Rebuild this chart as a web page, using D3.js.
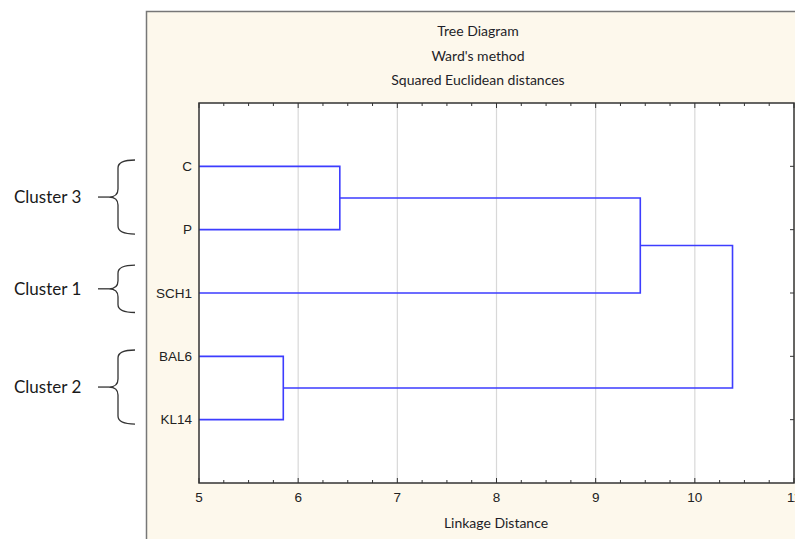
<!DOCTYPE html>
<html>
<head>
<meta charset="utf-8">
<script src="https://cdn.jsdelivr.net/npm/d3@7"></script>
<style>
  body { margin: 0; background: #fff; }
  svg { display: block; }
  .title { font-family: Lato, "Open Sans", sans-serif; font-size: 14px; fill: #1e1e28; }
  .tick-label { font-family: "Liberation Sans", Arial, sans-serif; font-size: 13.5px; fill: #222; }
  .cluster-label { font-family: Lato, "Open Sans", sans-serif; font-size: 17px; fill: #1a1a1a; }
</style>
</head>
<body>
<svg id="chart" width="795" height="539"></svg>
<script>
'use strict';

// leaves, top to bottom
var leaves = ['C', 'P', 'SCH1', 'BAL6', 'KL14'];

// merges, in order of construction
var linkLeft = ['C', 'BAL6', 'C+P', 'C+P+SCH1'];
var linkRight = ['P', 'KL14', 'SCH1', 'BAL6+KL14'];
var linkHeight = [6.42, 5.85, 9.45, 10.38];

// axis
var xTicks = [5, 6, 7, 8, 9, 10, 11];
var titleLines = ['Tree Diagram', "Ward's method", 'Squared Euclidean distances'];
var xTitle = 'Linkage Distance';

// cluster annotations on the left
var clusterNames = ['Cluster 3', 'Cluster 1', 'Cluster 2'];
var clusterMembers = [['C', 'P'], ['SCH1'], ['BAL6', 'KL14']];

var svg = d3.select('#chart');
var plot = { left: 199, right: 794, top: 103, bottom: 483 };

var x = d3.scaleLinear().domain([5, 11]).range([plot.left, plot.right]);
var y = d3.scaleLinear().domain([0, leaves.length + 1]).range([plot.top, plot.bottom]);
var step = y(1) - y(0);

// outer panel
svg.append('rect')
  .attr('x', 146.5).attr('y', 11.5)
  .attr('width', 700).attr('height', 600)
  .attr('fill', '#fdf8ec')
  .attr('stroke', '#777')
  .attr('stroke-width', 1.5);

// titles
svg.selectAll('text.title')
  .data(titleLines)
  .enter().append('text')
    .attr('class', 'title')
    .attr('x', 478)
    .attr('y', function(d, i){ return 36 + i * 24.5; })
    .attr('text-anchor', 'middle')
    .text(function(d){ return d; });

// plot area
svg.append('rect')
  .attr('x', plot.left).attr('y', plot.top)
  .attr('width', plot.right - plot.left).attr('height', plot.bottom - plot.top)
  .attr('fill', '#fff');

// grid lines at integer values
svg.append('g')
  .selectAll('line')
  .data(xTicks.filter(function(d){ return d > 5 && d < 11; }))
  .enter().append('line')
    .attr('x1', function(d){ return x(d); })
    .attr('x2', function(d){ return x(d); })
    .attr('y1', plot.top).attr('y2', plot.bottom)
    .attr('stroke', '#d8d8d8')
    .attr('stroke-width', 1.2);

// inward ticks on top and bottom
var minor = d3.range(5, 11.001, 0.25);
var tickG = svg.append('g').attr('stroke', '#333').attr('stroke-width', 1);
minor.forEach(function(v){
  var len = Number.isInteger(v) ? 5 : 3;
  tickG.append('line')
    .attr('x1', x(v)).attr('x2', x(v))
    .attr('y1', plot.bottom).attr('y2', plot.bottom - len);
  tickG.append('line')
    .attr('x1', x(v)).attr('x2', x(v))
    .attr('y1', plot.top).attr('y2', plot.top + len);
});
// ticks on the right at leaf positions
leaves.forEach(function(l, i){
  tickG.append('line')
    .attr('x1', plot.right).attr('x2', plot.right - 4)
    .attr('y1', y(i + 1)).attr('y2', y(i + 1));
});

// dendrogram
var nodes = {};
leaves.forEach(function(l, i){
  nodes[l] = { x: x(5), y: y(i + 1) };
});
var linkG = svg.append('g')
  .attr('fill', 'none')
  .attr('stroke', '#3d3dff')
  .attr('stroke-width', 1.6);
linkLeft.forEach(function(a, i){
  var b = linkRight[i];
  var px = x(linkHeight[i]);
  var na = nodes[a], nb = nodes[b];
  linkG.append('path')
    .attr('d', 'M' + na.x + ',' + na.y + 'H' + px + 'V' + nb.y + 'H' + nb.x);
  nodes[a + '+' + b] = { x: px, y: (na.y + nb.y) / 2 };
});

// plot border
svg.append('rect')
  .attr('x', plot.left).attr('y', plot.top)
  .attr('width', plot.right - plot.left).attr('height', plot.bottom - plot.top)
  .attr('fill', 'none')
  .attr('stroke', '#333')
  .attr('stroke-width', 1.5);

// leaf labels
svg.selectAll('text.leaf')
  .data(leaves)
  .enter().append('text')
    .attr('class', 'tick-label leaf')
    .attr('x', plot.left - 7)
    .attr('y', function(d, i){ return y(i + 1); })
    .attr('dy', '0.35em')
    .attr('text-anchor', 'end')
    .text(function(d){ return d; });

// x tick labels (the last one runs off the right edge, as in the original)
svg.selectAll('text.xtick')
  .data(xTicks)
  .enter().append('text')
    .attr('class', 'tick-label xtick')
    .attr('x', function(d){ return x(d); })
    .attr('y', plot.bottom + 19)
    .attr('text-anchor', 'middle')
    .text(function(d){ return d; });

svg.append('text')
  .attr('class', 'title')
  .attr('x', 496)
  .attr('y', 528)
  .attr('text-anchor', 'middle')
  .text(xTitle);

// curly braces with cluster names
var braceG = svg.append('g')
  .attr('fill', 'none')
  .attr('stroke', '#333')
  .attr('stroke-width', 1.3);
clusterNames.forEach(function(name, i){
  var m = clusterMembers[i];
  var pad = m.length > 1 ? 0.1 : 0.44;
  var y1 = y(leaves.indexOf(m[0]) + 1) - pad * step;
  var y2 = y(leaves.indexOf(m[m.length - 1]) + 1) + pad * step * 0.7;
  var ym = (y1 + y2) / 2;
  var xe = 135, xv = 118, xt = 109, r = 8;
  braceG.append('path')
    .attr('d', 'M' + xe + ',' + y1 +
      'Q' + xv + ',' + y1 + ' ' + xv + ',' + (y1 + r) +
      'L' + xv + ',' + (ym - r) +
      'Q' + xv + ',' + ym + ' ' + xt + ',' + ym +
      'Q' + xv + ',' + ym + ' ' + xv + ',' + (ym + r) +
      'L' + xv + ',' + (y2 - r) +
      'Q' + xv + ',' + y2 + ' ' + xe + ',' + y2);
  braceG.append('line')
    .attr('x1', 98).attr('x2', xt)
    .attr('y1', ym).attr('y2', ym);
  svg.append('text')
    .attr('class', 'cluster-label')
    .attr('x', 14)
    .attr('y', ym)
    .attr('dy', '0.35em')
    .text(name);
});
</script>
</body>
</html>
